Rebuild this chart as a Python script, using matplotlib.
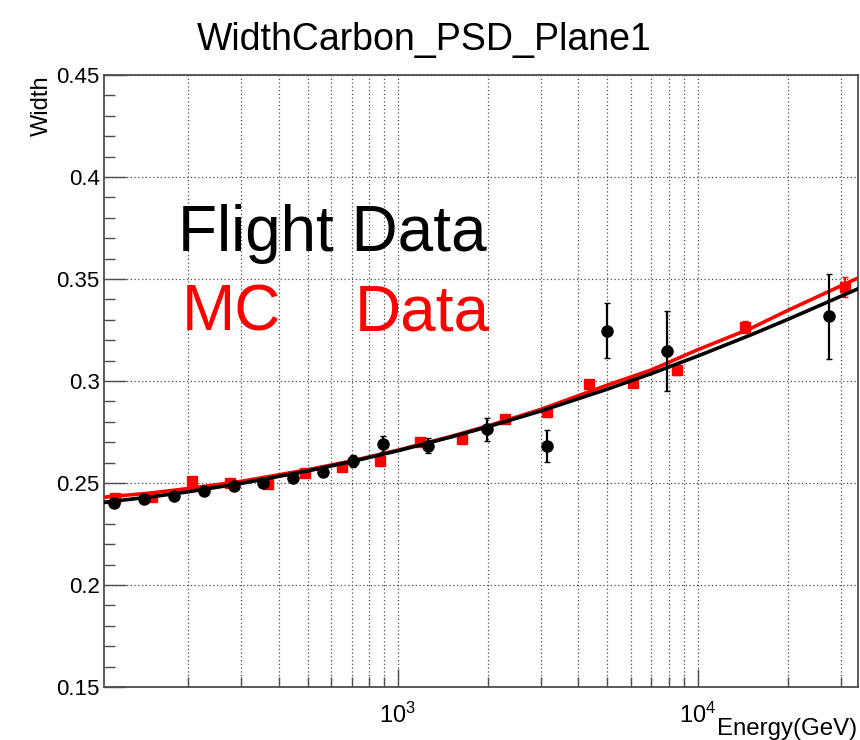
import matplotlib
matplotlib.use('Agg')
import matplotlib.pyplot as plt
import numpy as np
from matplotlib.ticker import LogLocator, MultipleLocator, NullFormatter, FuncFormatter

plt.rcParams['font.family'] = ['Liberation Sans', 'DejaVu Sans']
plt.rcParams['mathtext.default'] = 'regular'

# flight data (black points)
flight_e = [113, 142, 179, 225, 284, 355, 447, 563, 709, 893, 1257, 1987, 3152, 5000, 7886, 27540]
flight_w = [0.2400, 0.2422, 0.2438, 0.2461, 0.2484, 0.2501, 0.2526, 0.2555, 0.2609, 0.2691,
            0.2683, 0.2763, 0.2681, 0.3247, 0.3147, 0.3317]
flight_err = [0.0008, 0.0008, 0.0009, 0.0010, 0.0010, 0.0012, 0.0014, 0.0018, 0.0030, 0.0038,
              0.0038, 0.0055, 0.0078, 0.0133, 0.0195, 0.0207]

# MC data (red squares)
mc_e = [114, 151, 205, 275, 368, 489, 653, 871, 1184, 1639, 2277, 3145, 4343, 6067, 8510, 14410, 31080]
mc_w = [0.2428, 0.2430, 0.2511, 0.2499, 0.2493, 0.2548, 0.2578, 0.2610, 0.2702, 0.2716,
        0.2815, 0.2848, 0.2985, 0.2992, 0.3052, 0.3263, 0.3462]
mc_err = [0.0006, 0.0006, 0.0007, 0.0007, 0.0008, 0.0008, 0.0009, 0.0010, 0.0011, 0.0012,
          0.0014, 0.0016, 0.0020, 0.0022, 0.0025, 0.0030, 0.0050]

# fit curves, values
fit_e = [104, 150, 200, 300, 500, 700, 1000, 1500, 2000, 3000, 5000, 7000, 10000, 15000, 20000, 34300]
fit_flight = [0.2405, 0.2432, 0.2457, 0.2498, 0.2559, 0.2605, 0.2658, 0.2725, 0.2776, 0.2853,
              0.2960, 0.3036, 0.3122, 0.3225, 0.3302, 0.3452]
fit_mc = [0.2430, 0.2451, 0.2473, 0.2508, 0.2565, 0.2608, 0.2661, 0.2728, 0.2780, 0.2861,
          0.2980, 0.3054, 0.3153, 0.3257, 0.3346, 0.3505]

fig = plt.figure(figsize=(8.6, 7.4), dpi=100)
ax = fig.add_axes([104 / 860, 1 - 687 / 740, 754 / 860, 612 / 740])

ax.set_xscale('log')
ax.set_xlim(104.5, 34300)
ax.set_ylim(0.15, 0.45)

ax.errorbar(mc_e, mc_w, yerr=mc_err, fmt='s', color='red', ms=7.5, capsize=2, elinewidth=1.5, zorder=3)
ax.plot(fit_e, fit_mc, color='red', lw=2.6, zorder=4, solid_joinstyle='round')
ax.plot(fit_e, fit_flight, color='black', lw=2.6, zorder=5, solid_joinstyle='round')
ax.errorbar(flight_e, flight_w, yerr=flight_err, fmt='o', color='black', ms=8, capsize=2,
            elinewidth=1.6, zorder=6)

# axes / ticks, ROOT style
ax.yaxis.set_major_locator(MultipleLocator(0.05))
ax.yaxis.set_minor_locator(MultipleLocator(0.01))
ax.yaxis.set_major_formatter(FuncFormatter(lambda v, p: ('%.2f' % v).rstrip('0')))
ax.xaxis.set_major_locator(LogLocator(base=10, numticks=10))
ax.xaxis.set_minor_locator(LogLocator(base=10, subs=np.arange(2, 10), numticks=20))
ax.xaxis.set_minor_formatter(NullFormatter())
ax.xaxis.set_major_formatter(FuncFormatter(lambda v, p: '$10^{%d}$' % round(np.log10(v))))

ax.tick_params(axis='y', which='major', direction='in', length=16, width=1, color='0.3',
               labelsize=16, pad=3, right=False)
ax.tick_params(axis='y', which='minor', direction='in', length=8, width=1, color='0.3', right=False)
ax.tick_params(axis='x', which='major', direction='in', length=13, width=1, color='0.3',
               labelsize=17, pad=11, top=False)
ax.tick_params(axis='x', which='minor', direction='in', length=7, width=1, color='0.3', top=False)

ax.grid(which='major', axis='y', color='0.3', linestyle=(0, (1, 2)), lw=0.9)
ax.grid(which='both', axis='x', color='0.3', linestyle=(0, (1, 2)), lw=0.9)
ax.set_axisbelow(True)

for s in ax.spines.values():
    s.set_linewidth(1.3)
    s.set_color('0.3')

ax.text(0.098, 0.713, 'Flight Data', transform=ax.transAxes, fontsize=46, color='black',
        va='baseline', ha='left')
ax.text(0.103, 0.583, 'MC', transform=ax.transAxes, fontsize=46, color='red',
        va='baseline', ha='left')
ax.text(0.512, 0.583, 'Data', transform=ax.transAxes, fontsize=46, color='red',
        va='baseline', ha='right')

fig.text(0.493, 1 - 50 / 740, 'WidthCarbon_PSD_Plane1', fontsize=27, ha='center', va='baseline')
fig.text(42 / 860, 1 - 75 / 740, 'Width', fontsize=17, rotation=90, ha='center', va='top')
fig.text(857 / 860, 1 - 735 / 740, 'Energy(GeV)', fontsize=17.3, ha='right', va='baseline')

fig.savefig('out.png', dpi=100)
